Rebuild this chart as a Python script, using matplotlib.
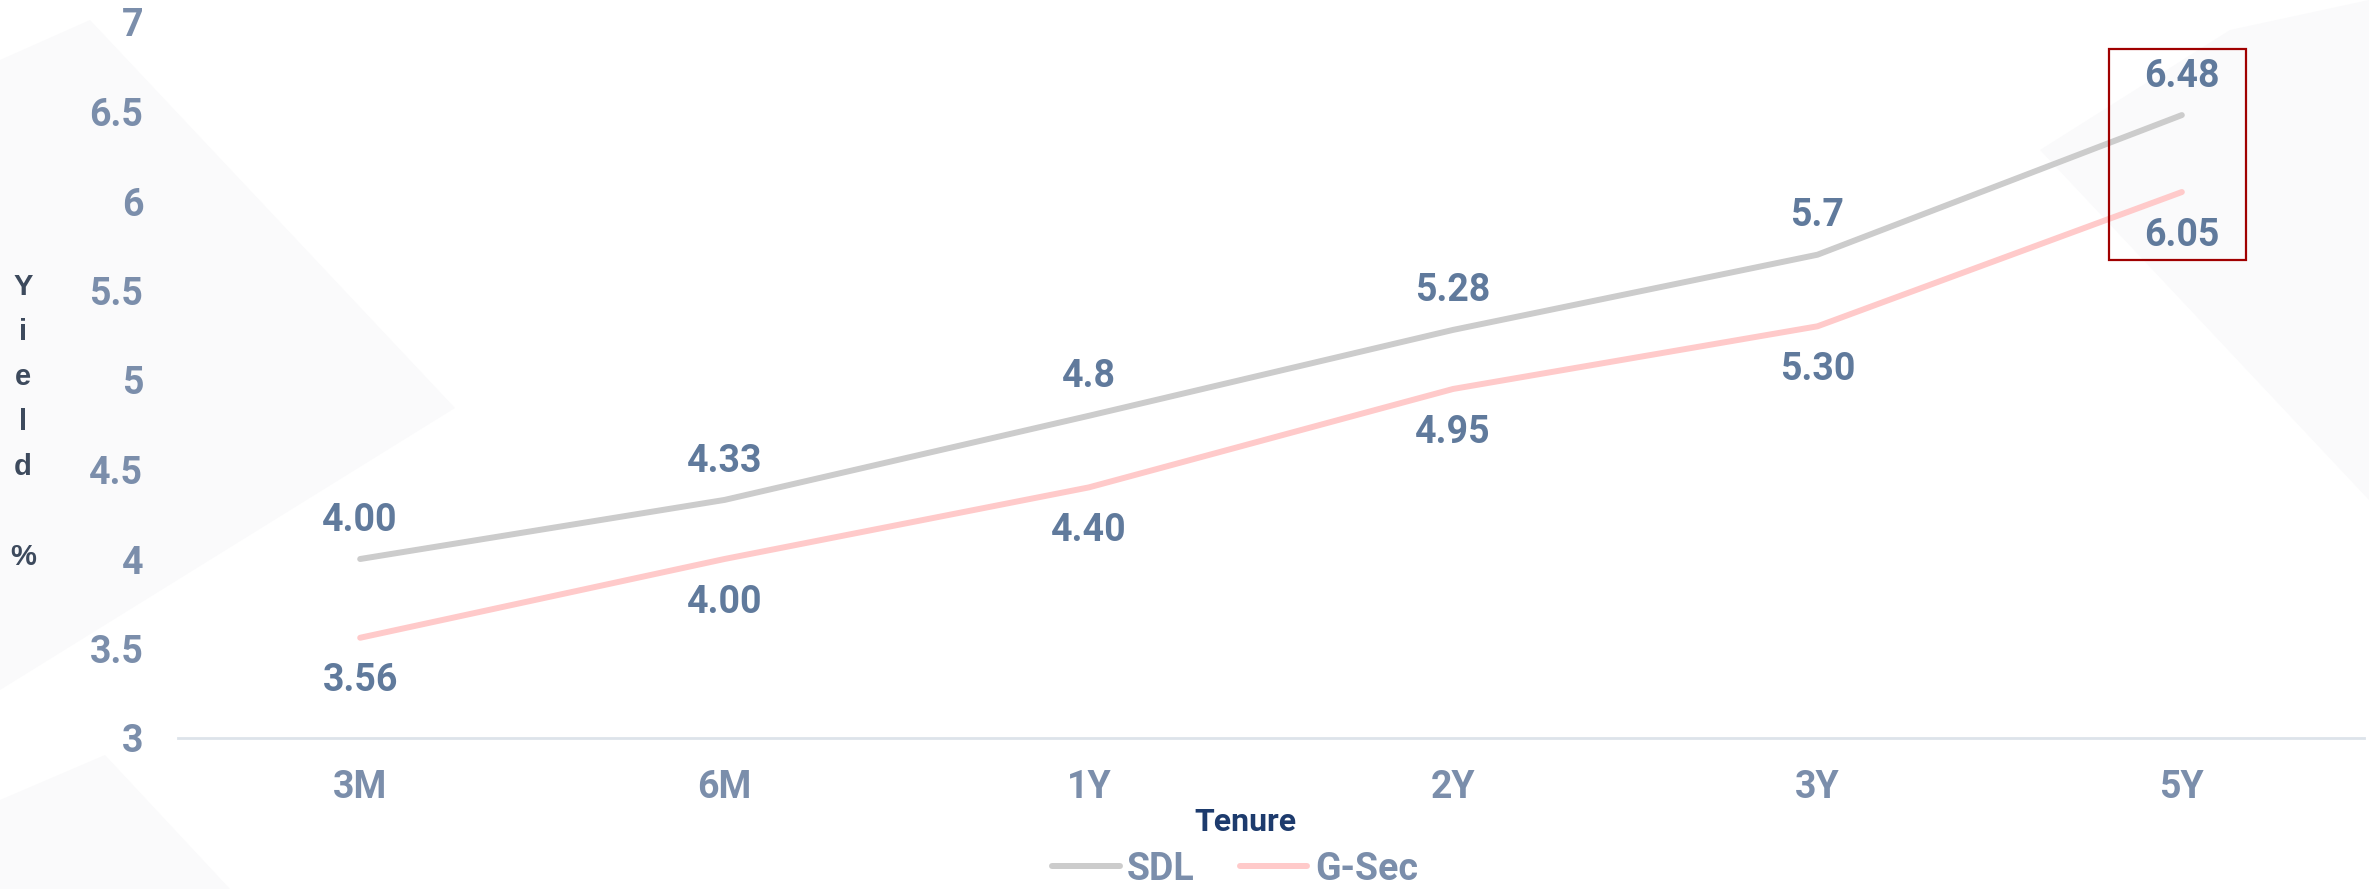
import matplotlib.pyplot as plt
from matplotlib.patches import Polygon, Rectangle
from matplotlib.lines import Line2D

tenures = ["3M", "6M", "1Y", "2Y", "3Y", "5Y"]
sdl = [4.00, 4.33, 4.8, 5.28, 5.7, 6.48]
gsec = [3.56, 4.00, 4.40, 4.95, 5.30, 6.05]
sdl_labels = ["4.00", "4.33", "4.8", "5.28", "5.7", "6.48"]
gsec_labels = ["3.56", "4.00", "4.40", "4.95", "5.30", "6.05"]
yticks = [3, 3.5, 4, 4.5, 5, 5.5, 6, 6.5, 7]
ytick_labels = ["3", "3.5", "4", "4.5", "5", "5.5", "6", "6.5", "7"]

W, H = 2369, 889
tick_col = "#7b8eab"
lab_col = "#607a9c"

fig = plt.figure(figsize=(W / 100, H / 100), dpi=100)
fig.patch.set_facecolor("white")

# faint background shapes (pixel coords of the picture)
def px(pts):
    return [(x / W, 1 - y / H) for x, y in pts]

bg = "#fafafb"
for pts in [
    [(0, 60), (90, 20), (455, 408), (0, 690)],
    [(0, 800), (105, 755), (230, 889), (0, 889)],
    [(2040, 150), (2230, 30), (2369, 0), (2369, 500)],
]:
    fig.patches.append(Polygon(px(pts), closed=True, transform=fig.transFigure,
                               facecolor=bg, edgecolor="none", zorder=-1))

ax = fig.add_axes([178 / W, 1 - 738 / H, (2364 - 178) / W, (738 - 22) / H])
ax.set_facecolor("none")

x = list(range(len(tenures)))
ax.plot(x, sdl, color="#cccccc", lw=4.3, solid_capstyle="round", solid_joinstyle="round", zorder=3)
ax.plot(x, gsec, color="#ffcaca", lw=4.3, solid_capstyle="round", solid_joinstyle="round", zorder=3)

for i in x:
    ax.annotate(sdl_labels[i], (i, sdl[i]), xytext=(0, 28), textcoords="offset points",
                ha="center", va="center", fontsize=27, fontweight="bold",
                family="Roboto", color=lab_col)
    ax.annotate(gsec_labels[i], (i, gsec[i]), xytext=(0, -31), textcoords="offset points",
                ha="center", va="center", fontsize=27, fontweight="bold",
                family="Roboto", color=lab_col)

ax.set_xlim(-0.5, len(tenures) - 0.5)
ax.set_ylim(3, 7)
ax.set_xticks(x)
ax.set_xticklabels(tenures, fontsize=27, fontweight="bold", family="Roboto", color=tick_col)
ax.set_yticks(yticks)
ax.set_yticklabels(ytick_labels, fontsize=27, fontweight="bold", family="Roboto", color=tick_col)
ax.tick_params(axis="both", length=0)
ax.tick_params(axis="x", pad=22)
ax.tick_params(axis="y", pad=25)
for s in ["top", "right", "left"]:
    ax.spines[s].set_visible(False)
ax.spines["bottom"].set_color("#dde3ea")
ax.spines["bottom"].set_linewidth(2)

# highlight box around 5Y
ax.add_patch(Rectangle((4.8, 5.67), 0.375, 1.18, fill=False, edgecolor="#a00000", lw=1.6, zorder=4))

# vertical stacked y label
ylab = ["Y", "i", "e", "l", "d", "", "%"]
for k, ch in enumerate(ylab):
    if ch:
        fig.text(23 / W, 1 - (287 + k * 45) / H, ch, ha="center", va="center",
                 fontsize=21, fontweight="bold", family="Liberation Sans", color="#3d4a5d")

fig.text(1245 / W, 1 - 822 / H, "Tenure", ha="center", va="center", fontsize=23,
         fontweight="bold", family="Roboto", color="#1d3b6d")

handles = [Line2D([], [], color="#cccccc", lw=4.3, solid_capstyle="round"),
           Line2D([], [], color="#ffcaca", lw=4.3, solid_capstyle="round")]
leg = fig.legend(handles, ["SDL", "G-Sec"], loc="center", bbox_to_anchor=(1235 / W, 1 - 869 / H),
                 ncol=2, frameon=False, handlelength=1.8, handletextpad=0.2, columnspacing=1.2,
                 prop={"family": "Roboto", "weight": "bold", "size": 27})
for t in leg.get_texts():
    t.set_color(tick_col)

fig.savefig("out.png", dpi=100)
